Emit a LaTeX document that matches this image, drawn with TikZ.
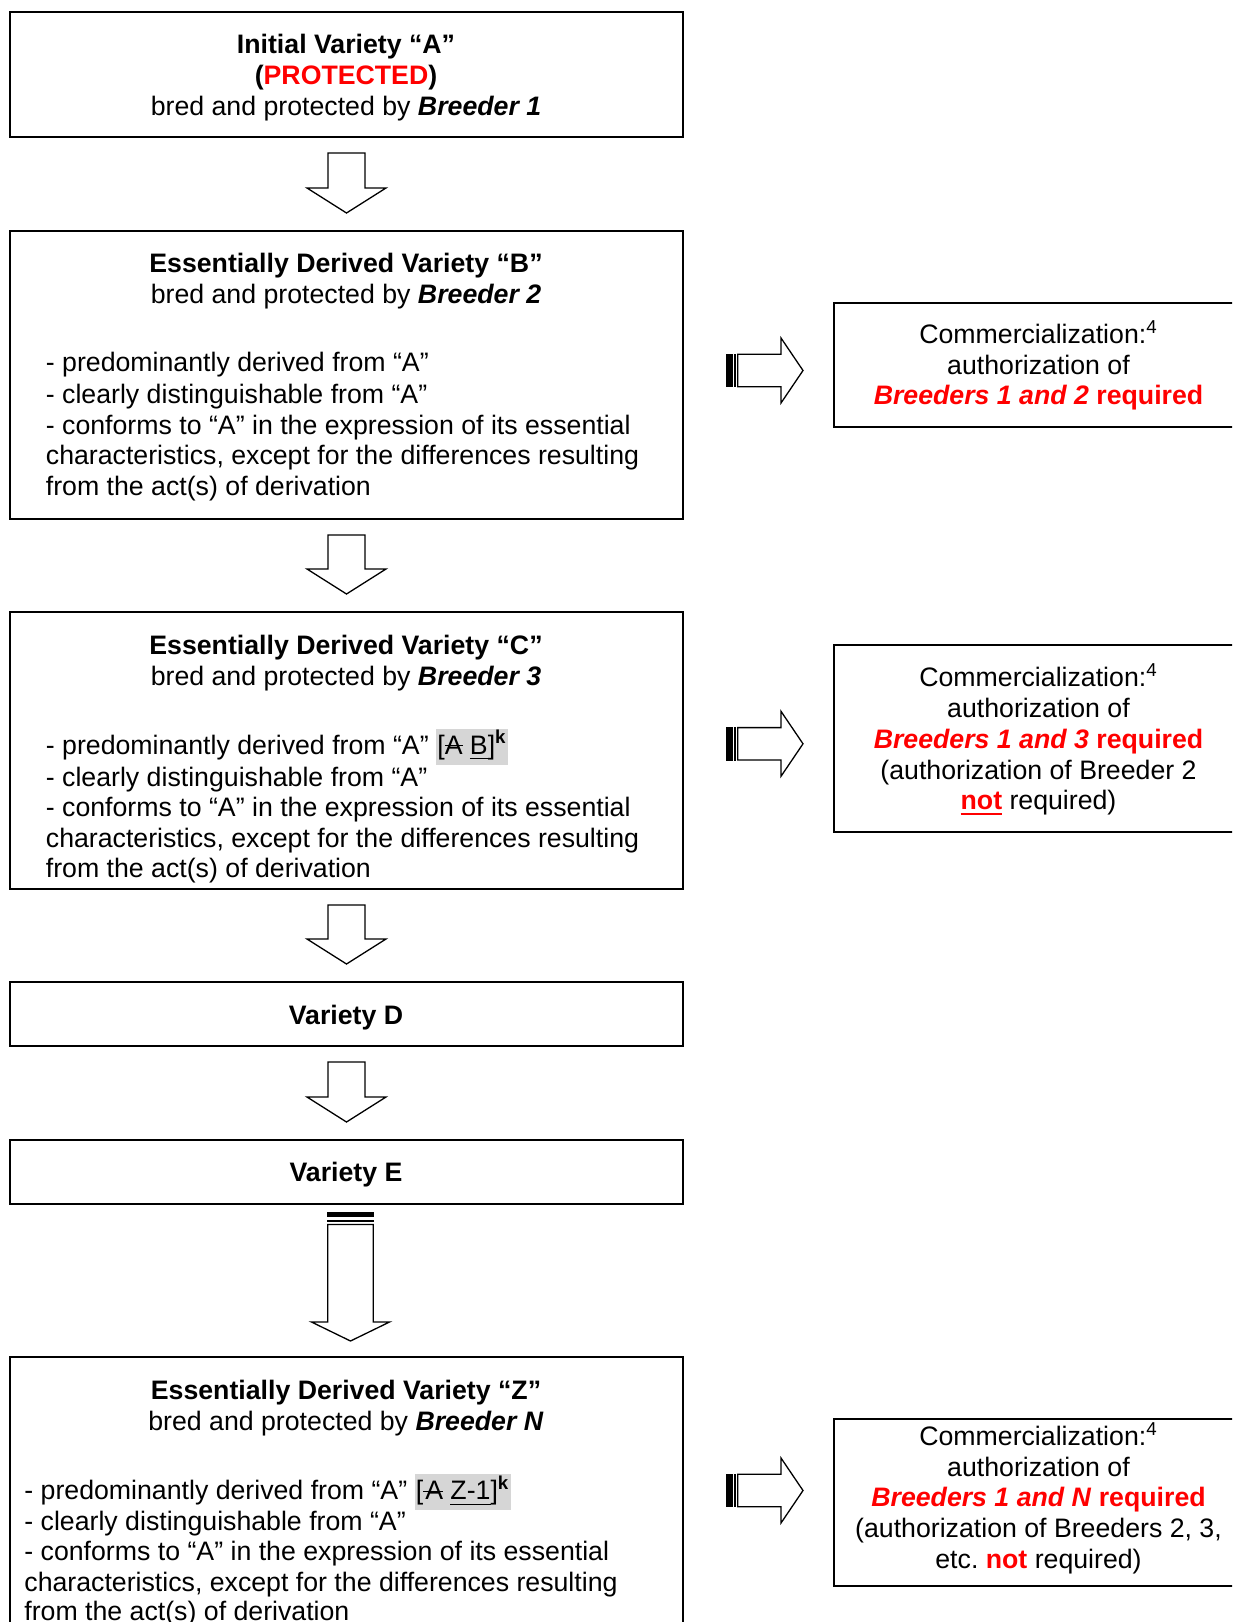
\documentclass[tikz,border=0pt]{standalone}
\usepackage{fontspec}
\setmainfont{Liberation Sans}
\usetikzlibrary{calc}
\frenchspacing
\definecolor{pred}{RGB}{255,0,0}
\definecolor{hlgray}{RGB}{214,214,214}
\newcommand\mystrike[1]{\setbox0\hbox{#1}\rlap{\rule[3.9pt]{\wd0}{0.6pt}}\box0\relax}
\newcommand\myunder[2][0.6pt]{\setbox0\hbox{#2}\rlap{\rule[-2.6pt]{\wd0}{#1}}\box0\relax}
\newcommand\hilite[1]{{\setlength\fboxsep{0.6pt}\colorbox{hlgray}{\strut #1}}}
\newcommand\redreq[1]{{\color{pred}\textbf{\textit{#1}} \textbf{required}}}
\newcommand\downblock[2]{\draw[blk] ($(#1.south)+(-18.5,15)$) -- ($(#1.south)+(18.5,15)$) -- ($(#2.north)+(18.5,-42)$) -- ($(#2.north)+(39.5,-42)$) -- ($(#2.north)+(0,-17)$) -- ($(#2.north)+(-39.5,-42)$) -- ($(#2.north)+(-18.5,-42)$) -- cycle;}
\newcommand\rightblock[3]{%
  \coordinate (ry) at (0,#3);
  \path ($(#1.east |- ry)+(42,0)$) coordinate (ra) ($(#2.west |- ry)+(-30,0)$) coordinate (rb);
  \fill ($(ra)+(0,-16.8)$) rectangle ($(ra)+(6.7,16.8)$);
  \fill ($(ra)+(8.2,-16.8)$) rectangle ($(ra)+(9.6,16.8)$);
  \draw[blk] ($(ra)+(11.8,-16.2)$) -- ($(rb)+(-22,-16.2)$) -- ($(rb)+(-22,-32.5)$) -- (rb) -- ($(rb)+(-22,32.5)$) -- ($(rb)+(-22,16.2)$) -- ($(ra)+(11.8,16.2)$) -- cycle;}
\newcommand\tallblock[2]{%
  \path ($(#1.south)+(4,7)$) coordinate (ta) ($(#2.north)+(4,-15)$) coordinate (tb);
  \fill ($(ta)+(-23.3,0)$) rectangle ($(ta)+(23.3,5)$);
  \fill ($(ta)+(-23.3,7.5)$) rectangle ($(ta)+(23.3,9.5)$);
  \draw[blk] ($(ta)+(-22.7,12.5)$) -- ($(ta)+(22.7,12.5)$) -- ($(tb)+(22.7,-19)$) -- ($(tb)+(39,-19)$) -- (tb) -- ($(tb)+(-39,-19)$) -- ($(tb)+(-22.7,-19)$) -- cycle;}
\begin{document}
\begin{tikzpicture}[x=0.5pt,y=-0.5pt,
  box/.style={draw,line width=1pt,inner sep=0pt,minimum width=336.5pt},
  rbox/.style={draw,line width=1pt,inner sep=0pt,minimum width=205.5pt},
  txt/.style={inner sep=0pt,font=\fontsize{13.35}{15.5}\selectfont,anchor=base},
  btxt/.style={txt,anchor=base west},
  blk/.style={draw,line width=0.65pt,fill=white,line join=miter}]
\useasboundingbox (0,0) rectangle (1232,1622);
\clip (0,0) rectangle (1232,1622);
% boxes
\node[box,minimum height=62.5pt] (A) at (346.5,74.5) {};
\node[box,minimum height=144pt] (B) at (346.5,375) {};
\node[box,minimum height=138.5pt] (C) at (346.5,750.5) {};
\node[box,minimum height=32pt] (D) at (346.5,1014) {};
\node[box,minimum height=32pt] (E) at (346.5,1172) {};
\node[box,minimum height=151.5pt] (Z) at (346.5,1508.5) {};
\node[rbox,minimum height=62pt] (R1) at (1039.5,364.5) {};
\node[rbox,minimum height=93.5pt] (R2) at (1039.5,738.5) {};
\node[rbox,minimum height=83.5pt] (R3) at (1039.5,1502.5) {};
% texts box A
\node[txt] (a1) at (346,54) {\textbf{Initial Variety “A”}};
\node[txt] (a2) at (346,84) {\textbf{(\textcolor{pred}{PROTECTED})}};
\node[txt] (a3) at (346,115) {bred and protected by \textbf{\textit{Breeder 1}}};
% box B
\node[txt] (b1) at (346,272) {\textbf{Essentially Derived Variety “B”}};
\node[txt] (b2) at (346,303) {bred and protected by \textbf{\textit{Breeder 2}}};
\node[btxt] (b3) at (45.5,371) {- predominantly derived from “A”};
\node[btxt] (b4) at (45.5,403) {- clearly distinguishable from “A”};
\node[btxt] (b5) at (45.5,434) {- conforms to “A” in the expression of its essential};
\node[btxt] (b6) at (45.5,464) {characteristics, except for the differences resulting};
\node[btxt] (b7) at (45.5,495) {from the act(s) of derivation};
% box C
\node[txt] (c1) at (346,654.5) {\textbf{Essentially Derived Variety “C”}};
\node[txt] (c2) at (346,685.5) {bred and protected by \textbf{\textit{Breeder 3}}};
\node[btxt] (c3) at (45.5,754) {- predominantly derived from “A” \hilite{[\mystrike{A} \myunder{B}]\textsuperscript{\textbf{k}}}};
\node[btxt] (c4) at (45.5,786) {- clearly distinguishable from “A”};
\node[btxt] (c5) at (45.5,816) {- conforms to “A” in the expression of its essential};
\node[btxt] (c6) at (45.5,847) {characteristics, except for the differences resulting};
\node[btxt] (c7) at (45.5,877) {from the act(s) of derivation};
% box D, E
\node[txt] (d1) at (346,1024) {\textbf{Variety D}};
\node[txt] (e1) at (346,1181) {\textbf{Variety E}};
% box Z
\node[txt] (z1) at (346,1399) {\textbf{Essentially Derived Variety “Z”}};
\node[txt] (z2) at (346,1430) {bred and protected by \textbf{\textit{Breeder N}}};
\node[btxt] (z3) at (24,1499.5) {- predominantly derived from “A” \hilite{[\mystrike{\kern1pt A} \myunder{Z-1}]\textsuperscript{\textbf{k}}}};
\node[btxt] (z4) at (24,1530.5) {- clearly distinguishable from “A”};
\node[btxt] (z5) at (24,1560.5) {- conforms to “A” in the expression of its essential};
\node[btxt] (z6) at (24,1591.5) {characteristics, except for the differences resulting};
\node[btxt] (z7) at (24,1620.5) {from the act(s) of derivation};
% right boxes
\node[txt] (r11) at (1038.5,343.5) {Commercialization:\textsuperscript{4}};
\node[txt] (r12) at (1038.5,374) {authorization of};
\node[txt] (r13) at (1038.5,404) {\redreq{Breeders 1 and 2}};
\node[txt] (r21) at (1038.5,686.5) {Commercialization:\textsuperscript{4}};
\node[txt] (r22) at (1038.5,717.5) {authorization of};
\node[txt] (r23) at (1038.5,748.5) {\redreq{Breeders 1 and 3}};
\node[txt] (r24) at (1038.5,779.5) {(authorization of Breeder 2};
\node[txt] (r25) at (1038.5,809.5) {{\color{pred}\myunder[1.1pt]{\textbf{not}}} required)};
\node[txt] (r31) at (1038.5,1445.5) {Commercialization:\textsuperscript{4}};
\node[txt] (r32) at (1038.5,1476) {authorization of};
\node[txt] (r33) at (1038.5,1506) {\redreq{Breeders 1 and N}};
\node[txt] (r34) at (1038.5,1537) {(authorization of Breeders 2, 3,};
\node[txt] (r35) at (1038.5,1568) {etc. \textcolor{pred}{\textbf{not}} required)};
% arrows
\downblock{A}{B}
\downblock{B}{C}
\downblock{C}{D}
\downblock{D}{E}
\tallblock{E}{Z}
\rightblock{B}{R1}{370.5}
\rightblock{C}{R2}{743.8}
\rightblock{Z}{R3}{1490.5}
\end{tikzpicture}
\end{document}
